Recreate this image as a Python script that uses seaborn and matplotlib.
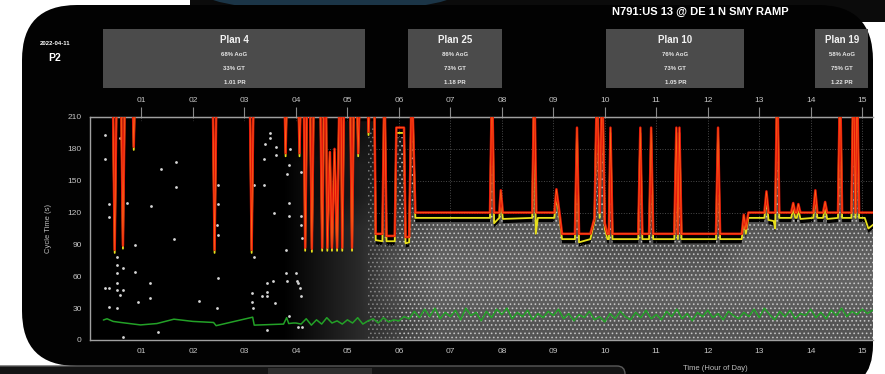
import numpy as np
import pandas as pd
import matplotlib.pyplot as plt
import seaborn as sns
from matplotlib.patches import FancyBboxPatch, Rectangle, Ellipse, Polygon
from matplotlib.colors import LinearSegmentedColormap

# ---- text ----
title = "N791:US 13 @ DE 1 N SMY RAMP"
date_label = "2022-04-11"
phase_label = "P2"

plan_names = ["Plan 4", "Plan 25", "Plan 10", "Plan 19"]
plan_aog = ["68% AoG", "86% AoG", "76% AoG", "58% AoG"]
plan_gt = ["33% GT", "73% GT", "73% GT", "75% GT"]
plan_pr = ["1.01 PR", "1.18 PR", "1.05 PR", "1.22 PR"]
plan_start = [0.26, 6.18, 10.03, 14.09]
plan_end = [5.35, 8.00, 12.71, 15.12]

hour_ticks = list(range(1, 16))
hour_labels = ["01", "02", "03", "04", "05", "06", "07", "08",
               "09", "10", "11", "12", "13", "14", "15"]
cycle_ticks = [0, 30, 60, 90, 120, 150, 180, 210]

# ---- red line: cycle length (250 = off the chart) ----
red_t = [0.0,
         0.44, 0.48, 0.52, 0.60, 0.64, 0.68, 0.82, 0.85, 0.88,
         2.38, 2.42, 2.46, 3.10, 3.14, 3.18, 3.77, 3.80, 3.83,
         4.04, 4.07, 4.10, 4.15, 4.18, 4.22, 4.27, 4.31, 4.35,
         4.47, 4.51, 4.55, 4.58, 4.61, 4.66, 4.70, 4.75, 4.80, 4.85,
         4.87, 4.90, 4.94, 5.05, 5.09, 5.13, 5.18, 5.21, 5.25,
         5.38, 5.41, 5.45,
         5.52, 5.55, 5.68, 5.72, 5.76, 5.92, 5.95, 6.10, 6.13, 6.20, 6.25, 6.32,
         7.77, 7.81, 7.85, 7.95, 7.98, 8.02,
         8.59, 8.63, 8.67,
         9.02, 9.06, 9.12, 9.17,
         9.42, 9.46, 9.50,
         9.72, 9.80, 9.85, 9.90, 9.95, 10.00, 10.05,
         10.08, 10.11, 10.15, 10.65, 10.69, 10.73, 10.86, 10.90, 10.94,
         11.35, 11.39, 11.42, 11.45, 11.49,
         12.16, 12.20, 12.24,
         12.66, 12.70, 12.74, 12.79,
         13.10, 13.14, 13.18, 13.31, 13.35, 13.39,
         13.62, 13.66, 13.70, 13.73, 13.76, 13.80,
         14.05, 14.09, 14.13, 14.24, 14.28, 14.32, 14.53, 14.57, 14.61,
         14.79, 14.83, 14.87, 14.90, 14.94,
         15.25]
red_v = [250,
         250, 85, 250, 250, 89, 250, 250, 182, 250,
         250, 85, 250, 250, 85, 250, 250, 176, 250,
         250, 176, 250, 250, 87, 250, 250, 86, 250,
         250, 87, 250, 250, 87, 177, 87, 180, 87, 250,
         250, 87, 250, 250, 87, 250, 250, 176, 250,
         250, 196, 250,
         250, 100, 100, 250, 98, 98, 200, 200, 97, 97, 250, 120,
         120, 250, 120, 120, 141, 120,
         120, 250, 120,
         120, 142, 120, 100,
         100, 200, 100,
         100, 115, 250, 120, 250, 110, 100,
         100, 200, 100, 100, 200, 100, 100, 200, 100,
         100, 200, 100, 200, 100,
         100, 200, 100,
         100, 118, 105, 120,
         120, 140, 120, 120, 250, 120,
         120, 129, 120, 120, 128, 120,
         120, 141, 120, 120, 130, 120, 120, 250, 120,
         120, 250, 120, 250, 120,
         120]

# ---- yellow line ----
yellow_t = [0.0,
            0.44, 0.48, 0.52, 0.60, 0.64, 0.68, 0.82, 0.85, 0.88,
            2.38, 2.42, 2.46, 3.10, 3.14, 3.18, 3.77, 3.80, 3.83,
            4.04, 4.07, 4.10, 4.15, 4.18, 4.22, 4.27, 4.31, 4.35,
            4.47, 4.51, 4.55, 4.58, 4.61, 4.66, 4.70, 4.75, 4.80, 4.85,
            4.87, 4.90, 4.94, 5.05, 5.09, 5.13, 5.18, 5.21, 5.25,
            5.38, 5.41, 5.45,
            5.52, 5.55, 5.68, 5.72, 5.76, 5.92, 5.95, 6.10, 6.13, 6.20, 6.25, 6.32,
            7.77, 7.81, 7.85, 7.95, 7.98, 8.02,
            8.59, 8.63, 8.66, 8.70,
            9.02, 9.06, 9.12, 9.17,
            9.42, 9.46, 9.50,
            9.72, 9.80, 9.85, 9.90, 9.95, 10.00, 10.05,
            10.08, 10.11, 10.15, 10.65, 10.69, 10.73, 10.86, 10.90, 10.94,
            11.35, 11.39, 11.42, 11.45, 11.49,
            12.16, 12.20, 12.24,
            12.66, 12.70, 12.74, 12.79,
            13.10, 13.14, 13.18, 13.28, 13.31, 13.35, 13.39,
            13.62, 13.66, 13.70, 13.73, 13.76, 13.80,
            14.05, 14.09, 14.13, 14.24, 14.28, 14.32, 14.53, 14.57, 14.61,
            14.79, 14.83, 14.87, 14.90, 14.94,
            15.05, 15.12, 15.25]
yellow_v = [250,
            250, 82, 250, 250, 86, 250, 250, 179, 250,
            250, 82, 250, 250, 82, 250, 250, 173, 250,
            250, 173, 250, 250, 84, 250, 250, 83, 250,
            250, 84, 250, 250, 84, 174, 84, 177, 84, 250,
            250, 84, 250, 250, 84, 250, 250, 173, 250,
            250, 193, 250,
            250, 94, 93, 250, 93, 93, 195, 195, 91, 92, 250, 115,
            115, 250, 110, 115, 135, 114,
            115, 250, 100, 115,
            115, 136, 115, 95,
            95, 195, 92,
            95, 112, 250, 115, 250, 105, 95,
            95, 195, 95, 95, 195, 95, 95, 195, 95,
            95, 195, 95, 195, 95,
            95, 195, 95,
            95, 113, 100, 115,
            115, 135, 113, 112, 105, 250, 115,
            115, 124, 115, 115, 123, 114,
            115, 136, 115, 115, 125, 114, 115, 250, 115,
            115, 250, 115, 250, 115,
            115, 105, 110]

# ---- green line ----
green_early_t = [0.26, 0.33, 0.45, 0.60, 0.98, 1.30, 1.63, 2.00, 2.40, 2.45,
                 3.16, 3.19, 3.50, 3.76, 3.82, 3.86, 3.95]
green_early_v = [18.8, 20.0, 17.5, 16.5, 14.2, 15.5, 19.6, 17.5, 16.5, 13.5,
                 21.5, 14.0, 14.5, 15.0, 21.0, 15.5, 16.0]
green_late_start = 4.0   # sampled every 6 minutes from 04:00
green_late_v = [16, 15, 20, 14, 19, 15, 21, 16, 18, 15,
                19, 16, 21, 15, 18, 20, 16, 21, 17, 19,
                18, 22, 20, 27, 21, 29, 22, 30, 20, 26,
                22, 28, 19, 30, 23, 26, 18, 27, 21, 29,
                24, 30, 20, 26, 22, 28, 19, 25, 21, 27,
                23, 29, 20, 25, 18, 24, 21, 27, 19, 22,
                17, 25, 20, 27, 22, 19, 26, 21, 28, 20,
                24, 19, 27, 22, 29, 20, 25, 18, 26, 22,
                28, 21, 25, 19, 27, 23, 20, 26, 22, 29,
                21, 30, 24, 19, 27, 22, 28, 20, 25, 23,
                29, 21, 26, 20, 28, 23, 30, 22, 27, 24,
                29, 25, 28]

# ---- arrival density (0-9), half-hour columns x 30 s rows, top row first ----
density_rows = ["0000000001121666666555555666666",
                "0000000011222666666555555666666",
                "0000000011233666666555555666666",
                "0000000012345666666555555666666",
                "0000000012356777777666666777777",
                "0000000012356777777777777777777",
                "0000000012345666666666666666666"]
# where the arrival cloud gets speckled: (from hour, to hour, opacity)
speckle_from = [5.4, 6.0]
speckle_to = [6.0, 15.5]
speckle_alpha = [0.4, 0.75]

# isolated arrivals (hour, cycle time)
dot_h = [0.30, 0.30, 0.37, 0.37, 0.58, 0.71, 0.53, 0.53, 0.53, 0.65, 0.53, 0.53,
         0.65, 0.58, 0.29, 0.37, 0.36, 0.53, 0.88, 0.87, 0.93, 0.64, 1.17, 1.17,
         1.19, 1.37, 1.68, 1.68, 1.64, 1.33, 2.11, 2.47, 2.48, 2.47, 2.48, 2.49,
         2.49, 3.18, 3.18, 3.15, 3.15, 3.16, 3.38, 3.38, 3.39, 3.50, 3.50, 3.61,
         3.61, 3.57, 3.83, 3.87, 3.89, 3.86, 3.86, 3.81, 3.44, 3.55, 3.80, 3.83,
         3.44, 3.34, 3.44, 3.59, 3.44, 3.86, 4.00, 4.02, 4.05, 4.08, 4.10, 4.12,
         4.05, 4.10, 4.10, 4.10, 4.12]
dot_v = [193, 170, 128, 116, 190, 129, 78, 71, 63, 68, 54, 47,
         47, 42, 49, 49, 31, 30, 89, 64, 36, 3, 54, 40,
         126, 161, 168, 144, 95, 8, 37, 30, 58, 108, 99, 128,
         146, 146, 78, 44, 36, 30, 146, 170, 185, 195, 190, 182,
         174, 120, 156, 165, 180, 129, 117, 85, 54, 56, 63, 56,
         45, 41, 41, 35, 9, 23, 63, 56, 54, 49, 41, 12,
         12, 158, 117, 108, 96]

RED = "#e3150c"
ORANGE = "#ff6a14"
YELLOW = "#e8e01c"
GREEN = "#23a127"
GRID = "#4a4a4a"
TICK = "#c4c4c4"

sns.set_style("dark")
plt.rcParams["font.family"] = ["Liberation Sans", "DejaVu Sans"]
plt.rcParams["hatch.linewidth"] = 0.7

fig = plt.figure(figsize=(8.85, 3.74), dpi=100, facecolor="white")

# background: photographed screen, in pixel coordinates
bg = fig.add_axes([0, 0, 1, 1], zorder=0)
bg.set_xlim(0, 885)
bg.set_ylim(374, 0)
bg.axis("off")
bg.add_patch(Rectangle((190, 0), 695, 22, color="#0b0b0b", lw=0))
bg.add_patch(Ellipse((330, -6), 250, 34, color="#1b3547", lw=0))
bg.add_patch(FancyBboxPatch((22, 5), 851, 361,
                            boxstyle="round,pad=0,rounding_size=55",
                            color="#020202", lw=0))
bg.add_patch(FancyBboxPatch((300, 60), 573, 330,
                            boxstyle="round,pad=0,rounding_size=45",
                            color="#020202", lw=0))
bg.add_patch(FancyBboxPatch((-20, 366), 645, 20,
                            boxstyle="round,pad=0,rounding_size=8",
                            facecolor="#141414", edgecolor="#5a5a5a", lw=1))
bg.add_patch(Rectangle((268, 368), 104, 7, color="#2e2e2e", lw=0))
bg.text(700, 12, title, color="white", fontsize=8, fontweight="bold",
        ha="center", va="center")
bg.text(55, 43, date_label, color="white", fontsize=4.3, fontweight="bold",
        ha="center", va="center")
bg.text(55, 58, phase_label, color="white", fontsize=7.5, fontweight="bold",
        ha="center", va="center")

# plan boxes, x in hours
x_max = 15.21
pax = fig.add_axes([90 / 885, (374 - 90) / 374, 783 / 885, 63 / 374], zorder=1)
pax.set_xlim(0, x_max)
pax.set_ylim(90, 27)
pax.axis("off")
for name, aog, gt, pr, s, e in zip(plan_names, plan_aog, plan_gt, plan_pr,
                                   plan_start, plan_end):
    pax.add_patch(Rectangle((s, 29), e - s, 59, color="#4b4b4b", lw=0))
    mid = (s + e) / 2
    pax.text(mid, 40, name, color="#f2f2f2", fontsize=7, fontweight="bold",
             ha="center", va="center")
    for yy, txt in zip([54, 68, 82.5], [aog, gt, pr]):
        pax.text(mid, yy, txt, color="#e6e6e6", fontsize=4.3, fontweight="bold",
                 ha="center", va="center")

# main chart
ax = fig.add_axes([90 / 885, 34 / 374, 783 / 885, 223 / 374], zorder=2)
ax.set_facecolor("#000000")
ax.set_xlim(0, x_max)
ax.set_ylim(0, 210)

# arrival cloud: soft density underlay + speckle, kept under the yellow line
density = np.array([[int(c) for c in row] for row in density_rows], dtype=float)
cloud_cmap = LinearSegmentedColormap.from_list("cloud", ["#000000", "#8c8c8c"])
img = ax.imshow(density, extent=(0, 15.5, 0, 210), aspect="auto", origin="upper",
                cmap=cloud_cmap, vmin=0, vmax=10, interpolation="bilinear", zorder=1)
clip_pts = [(t, min(v, 210) - 4) for t, v in zip(yellow_t, yellow_v)]
clip_pts += [(15.5, 106), (15.5, 0), (0, 0)]
clip_poly = Polygon(clip_pts, closed=True, transform=ax.transData,
                    facecolor="none", edgecolor="none")
ax.add_patch(clip_poly)
img.set_clip_path(clip_poly)

for s, e, a in zip(speckle_from, speckle_to, speckle_alpha):
    speckle = ax.fill_between([s, e], [0, 0], [200, 200],
                              facecolor="none", edgecolor="#dcdcdc",
                              hatch="....", lw=0, alpha=a, zorder=2)
    speckle.set_clip_path(clip_poly)

sns.scatterplot(x=dot_h, y=dot_v, ax=ax, s=4, color="#d6d6d6", linewidth=0,
                zorder=3, legend=False)

green_t = list(green_early_t) + list(np.round(
    green_late_start + 0.1 * np.arange(len(green_late_v)), 2))
green_v = list(green_early_v) + list(green_late_v)
sns.lineplot(x=green_t, y=green_v, ax=ax, sort=False, estimator=None,
             color=GREEN, lw=1.1, zorder=4)

sns.lineplot(x=yellow_t, y=yellow_v, ax=ax, sort=False, estimator=None,
             color=YELLOW, lw=1.3, zorder=5)
sns.lineplot(x=red_t, y=red_v, ax=ax, sort=False, estimator=None,
             color=RED, lw=1.8, zorder=6)
sns.lineplot(x=red_t, y=red_v, ax=ax, sort=False, estimator=None,
             color=ORANGE, lw=0.5, zorder=7)

ax.grid(True, color=GRID, linestyle=":", lw=0.7)
ax.set_xticks(hour_ticks, labels=hour_labels)
ax.set_yticks(cycle_ticks)
ax.tick_params(axis="both", colors="#8a8a8a", labelcolor=TICK, labelsize=6,
               length=3, width=0.8, pad=3)
ax.spines["right"].set_visible(False)
for side in ["left", "bottom", "top"]:
    ax.spines[side].set_color("#a0a0a0")
    ax.spines[side].set_linewidth(1.0)

top = ax.secondary_xaxis("top")
top.set_xticks(hour_ticks, labels=hour_labels)
top.tick_params(colors="#8a8a8a", labelcolor=TICK, labelsize=6, length=7,
                width=0.8, pad=2)
top.spines["top"].set_color("#a0a0a0")

ax.set_ylabel("Cycle Time (s)", color="#bdbdbd", fontsize=5.5)
ax.yaxis.set_label_coords(-0.048, 0.5)
ax.set_xlabel("Time (Hour of Day)", color="#bdbdbd", fontsize=5.5)
ax.xaxis.set_label_coords(0.798, -0.112)

fig.savefig("out.png", dpi=100, facecolor=fig.get_facecolor())
